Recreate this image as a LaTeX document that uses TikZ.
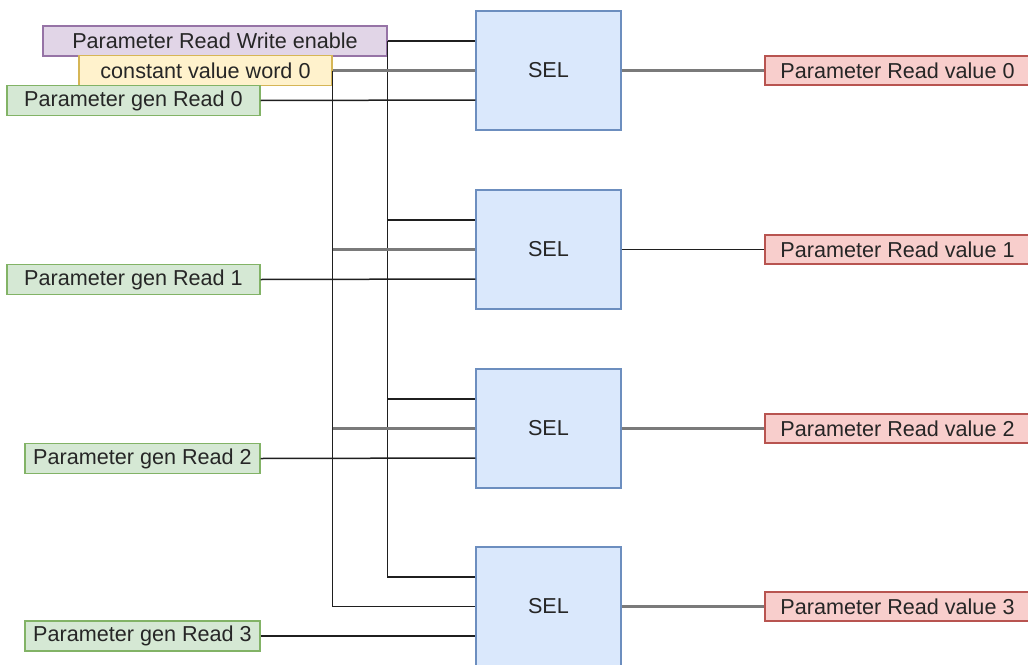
\documentclass[tikz,border=0pt]{standalone}
\usepackage{fontspec}
\setmainfont{Liberation Sans}
\begin{document}
\begin{tikzpicture}[x=0.5pt,y=-0.5pt,
  box/.style={draw, line width=0.65pt, inner sep=0pt, font=\fontsize{10.8}{12}\selectfont, text=black!85},
  rwbox/.style={box, fill=purpleFill, draw=purpleLine},
  cvbox/.style={box, fill=yellowFill, draw=yellowLine},
  genbox/.style={box, fill=greenFill, draw=greenLine, minimum height=15pt},
  outbox/.style={box, fill=redFill, draw=redLine, minimum width=132.5pt, minimum height=14.5pt},
  selbox/.style={box, fill=blueFill, draw=blueLine, minimum width=72.5pt, minimum height=59.5pt},
  wire/.style={line width=0.75pt, draw=black!88},
  gwire/.style={line width=1.2pt, draw=black!52}]
\definecolor{purpleFill}{HTML}{E1D5E7}\definecolor{purpleLine}{HTML}{9673A6}
\definecolor{yellowFill}{HTML}{FFF2CC}\definecolor{yellowLine}{HTML}{D6B656}
\definecolor{greenFill}{HTML}{D5E8D4}\definecolor{greenLine}{HTML}{82B366}
\definecolor{blueFill}{HTML}{DAE8FC}\definecolor{blueLine}{HTML}{6C8EBF}
\definecolor{redFill}{HTML}{F8CECC}\definecolor{redLine}{HTML}{B85450}

\useasboundingbox (0,0) rectangle (1028,664);
\clip (0,0) rectangle (1028,664);

% selectors
\node[selbox] (sel0) at (548.5,70.5) {SEL};
\node[selbox] (sel1) at (548.5,249.5) {SEL};
\node[selbox] (sel2) at (548.5,428.5) {SEL};
\node[selbox] (sel3) at (548.5,606.5) {SEL};

% selector inputs: a = enable, b = constant, c = generated read
\foreach \i in {0,1,2,3}{
  \coordinate (s\i a) at ([yshift=14.75pt]sel\i.west);
  \coordinate (s\i b) at (sel\i.west);
  \coordinate (s\i c) at ([yshift=-14.75pt]sel\i.west);
}

% sources
\node[rwbox, minimum width=172pt, minimum height=15pt] (rw) at (215,41) {Parameter Read Write enable};
\node[cvbox, minimum width=126.5pt, minimum height=15pt] (cv) at (205.5,70.5) {constant value word 0};
\node[genbox, minimum width=126.5pt] (g0) at (133.5,100.5) {Parameter gen Read 0};
\node[genbox, minimum width=126.5pt] (g1) at (133.5,279.5) {Parameter gen Read 1};
\node[genbox, minimum width=117.5pt] (g2) at (142.5,458.5) {Parameter gen Read 2};
\node[genbox, minimum width=117.5pt] (g3) at (142.5,636) {Parameter gen Read 3};

% outputs
\node[outbox] (o0) at (897.5,70.5) {Parameter Read value 0};
\node[outbox] (o1) at (897.5,249.5) {Parameter Read value 1};
\node[outbox] (o2) at (897.5,428.5) {Parameter Read value 2};
\node[outbox] (o3) at (897.5,606.5) {Parameter Read value 3};

% enable fan-out
\draw[wire] (rw.east) -- (s0a);
\draw[wire] (rw.east) |- (s1a);
\draw[wire] (rw.east) |- (s2a);
\draw[wire] (rw.east) |- (s3a);

% constant fan-out
\draw[gwire] (cv.east) -- (s0b);
\draw[wire] (cv.east) -- (cv.east |- s3b);
\draw[gwire] (cv.east |- s1b) -- (s1b);
\draw[gwire] (cv.east |- s2b) -- (s2b);
\draw[wire] (cv.east |- s3b) -- (s3b);

% generated reads
\draw[wire] (g0.east) -- (s0c);
\draw[wire] (g1.east) -- (s1c);
\draw[wire] (g2.east) -- (s2c);
\draw[wire] (g3.east) -- (s3c);

% selector outputs
\draw[gwire] (sel0.east) -- (o0.west);
\draw[wire] (sel1.east) -- (o1.west);
\draw[gwire] (sel2.east) -- (o2.west);
\draw[gwire] (sel3.east) -- (o3.west);
\end{tikzpicture}
\end{document}
